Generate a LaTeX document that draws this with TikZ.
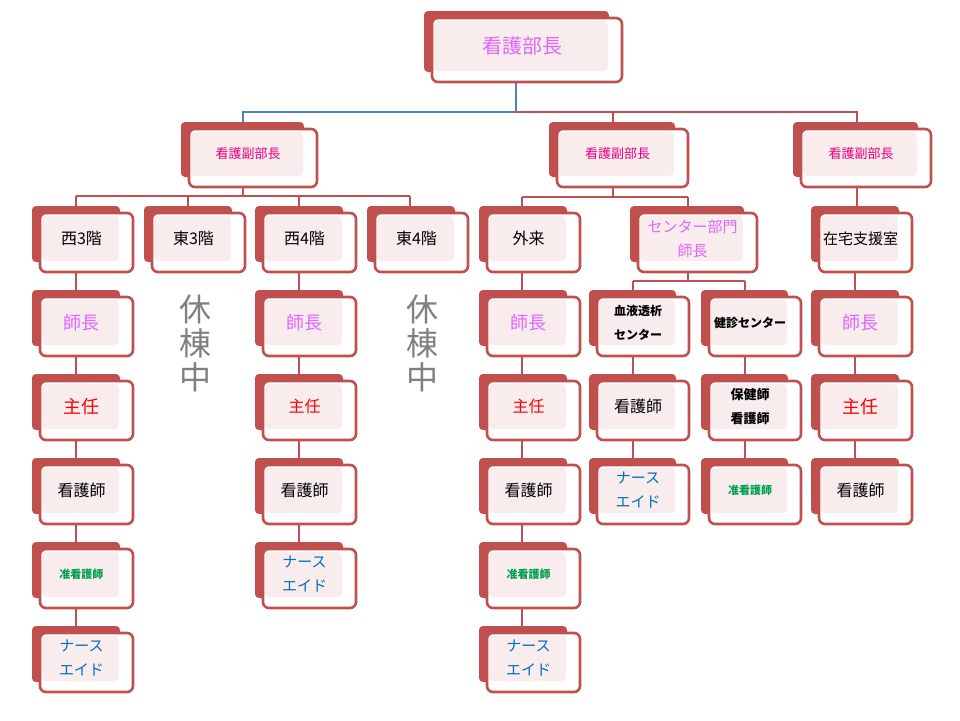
\documentclass[tikz,border=0pt]{standalone}
\usepackage{fontspec}
\setmainfont{Noto Sans CJK JP}
\definecolor{boxred}{HTML}{C0504D}
\definecolor{boxpink}{HTML}{F8ECEC}
\definecolor{chiefviolet}{HTML}{E066FF}
\definecolor{deputypink}{HTML}{E6007E}
\definecolor{assocgreen}{HTML}{00A050}
\definecolor{aideblue}{HTML}{0070C0}
\definecolor{orgblue}{HTML}{4F81BD}
\tikzset{
  backbox/.style={fill=boxred, rounded corners=2pt},
  frontbox/.style={draw=boxred, line width=1.3pt, fill=white, rounded corners=3pt},
  pinkbox/.style={fill=boxpink, rounded corners=2pt},
  orgline/.style={draw=boxred, line width=1.3pt},
  boxtext/.style={align=center, font=\fontsize{8}{11}\selectfont, inner sep=0pt},
  chief/.style={boxtext, text=chiefviolet, font=\fontsize{9}{11}\selectfont},
  deputy/.style={boxtext, text=deputypink, font=\fontsize{6.5}{8}\selectfont},
  lead/.style={boxtext, text=red},
  assoc/.style={boxtext, text=assocgreen, font=\fontsize{5.5}{7}\bfseries\selectfont},
  aide/.style={boxtext, text=aideblue, font=\fontsize{7.5}{12}\selectfont},
  staff/.style={boxtext, text=black},
  closed/.style={align=center, text=gray, font=\fontsize{16}{17}\selectfont, inner sep=0pt}
}
% \orgbox{name}{x}{y}{w}{h}{style}{text}
\newcommand{\orgbox}[7]{
  \fill[backbox] (#2-8,#3-7) rectangle (#2+#4-13,#3+#5-10);
  \draw[frontbox] (#2,#3) rectangle (#2+#4,#3+#5);
  \fill[pinkbox] (#2+2,#3+3) rectangle (#2+#4-14,#3+#5-11);
  \node[#6] (#1) at (#2+#4/2-5,#3+#5/2-4) {#7};
  \coordinate (#1-t) at ({#2-8+(#4-5)/2},#3-7);
  \coordinate (#1-b) at ({#2-8+(#4-5)/2},#3+#5);
}
\begin{document}
\begin{tikzpicture}[x=0.5pt, y=-0.5pt]
\useasboundingbox (0,0) rectangle (960,720);

% connectors
\coordinate (top-b) at (516,82);
\coordinate (bar1) at (516,112);
\draw[orgblue, line width=1.3pt] (top-b) -- (bar1) -- (243,112) -- (243,122);
\draw[orgline] (bar1) -- (857,112) -- (857,122);
\draw[orgline] (613,112) -- (613,122);
\draw[orgline] (243,187) -- (243,196);
\draw[orgline] (76,196) -- (410,196);
\foreach \cx in {76,188,299,410} \draw[orgline] (\cx,196) -- (\cx,206);
\draw[orgline] (613,187) -- (613,197);
\draw[orgline] (522,197) -- (688,197);
\foreach \cx in {522,688} \draw[orgline] (\cx,197) -- (\cx,206);
\draw[orgline] (857,187) -- (857,206);
\draw[orgline] (688,272) -- (688,281);
\draw[orgline] (633,281) -- (745,281);
\foreach \cx in {633,745} \draw[orgline] (\cx,281) -- (\cx,290);
% column spines
\draw[orgline] (76,272) -- (76,626);
\draw[orgline] (299,272) -- (299,542);
\draw[orgline] (522,272) -- (522,626);
\draw[orgline] (633,355) -- (633,458);
\draw[orgline] (745,355) -- (745,458);
\draw[orgline] (855,272) -- (855,458);

% boxes
\orgbox{head}{432}{18}{190}{64}{chief, font=\fontsize{10}{12}\selectfont}{看護部長}
\orgbox{depA}{189}{129}{128}{58}{deputy}{看護副部長}
\orgbox{depB}{557}{129}{131}{58}{deputy}{看護副部長}
\orgbox{depC}{801}{129}{130}{58}{deputy}{看護副部長}

\orgbox{w3}{40}{213}{93}{59}{staff}{西3階}
\orgbox{w3a}{40}{297}{93}{59}{chief}{師長}
\orgbox{w3b}{40}{381}{93}{59}{lead, font=\fontsize{9}{11}\selectfont}{主任}
\orgbox{w3c}{40}{465}{93}{59}{staff}{看護師}
\orgbox{w3d}{40}{549}{93}{59}{assoc}{准看護師}
\orgbox{w3e}{40}{633}{93}{59}{aide}{ナース\\エイド}

\orgbox{e3}{152}{213}{93}{59}{staff}{東3階}
\node[closed] (e3x) at (195,343) {休\\棟\\中};

\orgbox{w4}{263}{213}{93}{59}{staff}{西4階}
\orgbox{w4a}{263}{297}{93}{59}{chief}{師長}
\orgbox{w4b}{263}{381}{93}{59}{lead}{主任}
\orgbox{w4c}{263}{465}{93}{59}{staff}{看護師}
\orgbox{w4d}{263}{549}{93}{59}{aide}{ナース\\エイド}

\orgbox{e4}{375}{213}{93}{59}{staff}{東4階}
\node[closed] (e4x) at (422,343) {休\\棟\\中};

\orgbox{op}{487}{213}{93}{59}{staff}{外来}
\orgbox{opa}{487}{297}{93}{59}{chief}{師長}
\orgbox{opb}{487}{381}{93}{59}{lead}{主任}
\orgbox{opc}{487}{465}{93}{59}{staff}{看護師}
\orgbox{opd}{487}{549}{93}{59}{assoc}{准看護師}
\orgbox{ope}{487}{633}{93}{59}{aide}{ナース\\エイド}

\orgbox{ctr}{638}{213}{119}{59}{chief, font=\fontsize{7.5}{12}\selectfont}{センター部門\\師長}
\orgbox{dia}{597}{297}{92}{59}{staff, font=\fontsize{6}{12}\bfseries\selectfont}{血液透析\\センター}
\orgbox{dia1}{597}{381}{92}{59}{staff}{看護師}
\orgbox{dia2}{597}{465}{92}{59}{aide}{ナース\\エイド}
\orgbox{chk}{709}{297}{92}{59}{staff, font=\fontsize{6}{8}\bfseries\selectfont}{健診センター}
\orgbox{chk1}{709}{381}{92}{59}{staff, font=\fontsize{6.5}{12}\bfseries\selectfont}{保健師\\看護師}
\orgbox{chk2}{709}{465}{92}{59}{assoc}{准看護師}

\orgbox{home}{819}{213}{93}{59}{staff, font=\fontsize{7.5}{9}\selectfont}{在宅支援室}
\orgbox{homea}{819}{297}{93}{59}{chief}{師長}
\orgbox{homeb}{819}{381}{93}{59}{lead, font=\fontsize{9}{11}\selectfont}{主任}
\orgbox{homec}{819}{465}{93}{59}{staff}{看護師}
\end{tikzpicture}
\end{document}
